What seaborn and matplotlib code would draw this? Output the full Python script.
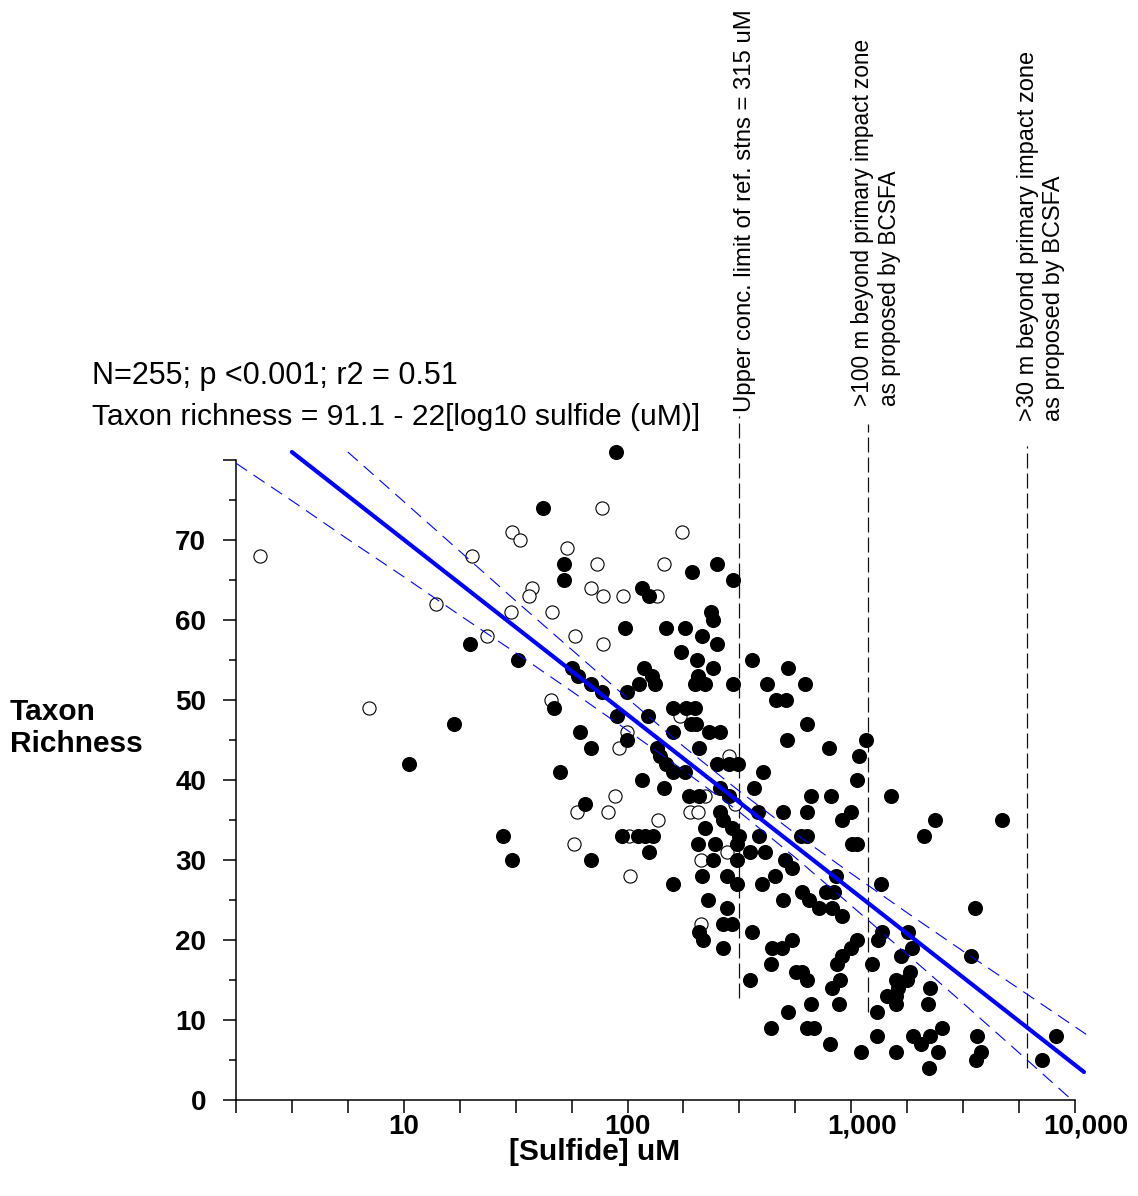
import numpy as np
import pandas as pd
import matplotlib
matplotlib.use("Agg")
import matplotlib.pyplot as plt
from matplotlib.transforms import ScaledTranslation
import seaborn as sns

# ---------------- data ----------------
# reference stations (open circles)
ref_sulfide = [2.28, 20.1, 14.0, 23.5, 7.0, 30.3, 33, 77, 176, 53.5,
               73.4, 145, 37.3, 36.1, 69, 77.3, 95, 135, 30, 45.8,
               58, 78, 45.3, 171, 99, 285, 92, 88, 59.2, 81.5,
               191, 206, 137, 57.4, 102, 103, 214, 214, 221, 303,
               279]
ref_richness = [68, 68, 62, 58, 49, 71, 70, 74, 71, 69,
                67, 67, 64, 63, 64, 63, 63, 63, 61, 61,
                58, 57, 50, 48, 46, 43, 44, 38, 36, 36,
                36, 36, 35, 32, 33, 28, 30, 22, 38, 37,
                31]

# farm stations (filled circles)
impact_sulfide = [19.7, 16.7, 10.6, 89, 41.7, 51.8, 252, 195, 51.8, 295,
                  116, 125, 237, 242, 97, 148, 180, 216, 252, 174,
                  32.3, 205, 361, 56.2, 118, 240, 524, 59.8, 129, 206,
                  69, 113, 133, 200, 221, 295, 422, 624, 76.6, 99,
                  462, 513, 46.8, 159, 183, 200, 90, 124, 61, 159,
                  193, 203, 631, 232, 258, 99, 517, 1166, 68.5, 135,
                  209, 798, 139, 1086, 149, 250, 285, 313, 49.7, 405,
                  116, 1064, 159, 180, 145, 258, 369, 189, 209, 285,
                  662, 814, 1510, 64.3, 258, 384, 497, 636, 1000, 266,
                  912, 2371, 4720, 223, 294, 27.7, 94, 111, 120, 130,
                  316, 388, 598, 636, 2120, 206, 247, 307, 1010, 1064,
                  125, 351, 413, 30.3, 68.5, 240, 310, 507, 545, 216,
                  279, 457, 857, 159, 307, 401, 1360, 604, 773, 839,
                  228, 497, 649, 279, 719, 822, 3580, 912, 266, 294,
                  209, 361, 1374, 1795, 218, 545, 1064, 1321, 266, 444,
                  492, 1000, 1871, 912, 1671, 3435, 439, 867, 1242, 568,
                  604, 1832, 354, 636, 893, 1585, 1778, 822, 1622, 2253,
                  1445, 1585, 662, 884, 1585, 2208, 524, 1306, 439, 636,
                  684, 2547, 1306, 1892, 2253, 3656, 8222, 806, 2056, 1109,
                  1585, 2443, 3802, 3614, 7127, 2230]
impact_richness = [57, 47, 42, 81, 74, 67, 67, 66, 65, 65,
                   64, 63, 61, 60, 59, 59, 59, 58, 57, 56,
                   55, 55, 55, 54, 54, 54, 54, 53, 53, 53,
                   52, 52, 52, 52, 52, 52, 52, 52, 51, 51,
                   50, 50, 49, 49, 49, 49, 48, 48, 46, 46,
                   47, 47, 47, 46, 46, 45, 45, 45, 44, 44,
                   44, 44, 43, 43, 42, 42, 42, 42, 41, 41,
                   40, 40, 41, 41, 39, 39, 39, 38, 38, 38,
                   38, 38, 38, 37, 36, 36, 36, 36, 36, 35,
                   35, 35, 35, 34, 34, 33, 33, 33, 33, 33,
                   33, 33, 33, 33, 33, 32, 32, 32, 32, 32,
                   31, 31, 31, 30, 30, 30, 30, 30, 29, 28,
                   28, 28, 28, 27, 27, 27, 27, 26, 26, 26,
                   25, 25, 25, 24, 24, 24, 24, 23, 22, 22,
                   21, 21, 21, 21, 20, 20, 20, 20, 19, 19,
                   19, 19, 19, 18, 18, 18, 17, 17, 17, 16,
                   16, 16, 15, 15, 15, 15, 15, 14, 14, 14,
                   13, 13, 12, 12, 12, 12, 11, 11, 9, 9,
                   9, 9, 8, 8, 8, 8, 8, 7, 7, 6,
                   6, 6, 6, 5, 5, 4]

# regression line and its confidence band
fit_sulfide = [3.16, 10965]
fit_richness = [81.0, 3.5]
band_up_sulfide = [5.62, 10, 17.78, 31.62, 56.23, 100, 177.8, 316.2,
                   562.3, 1000, 1778, 3162, 5623, 11220]
band_up = [81.0, 74.8, 68.6, 62.4, 56.3, 50.2, 44.2, 38.6,
           33.3, 28.3, 23.4, 18.6, 13.9, 8.2]
band_lo_sulfide = [1.778, 3.162, 5.62, 10, 17.78, 31.62, 56.23, 100, 177.8,
                   316.2, 562.3, 1000, 1778, 3162, 5623, 11220]
band_lo = [79.6, 74.9, 70.1, 65.4, 60.6, 55.9, 51.1, 46.2, 41.2,
           36.0, 30.3, 24.3, 18.2, 12.1, 5.9, -1.6]

# reference limits (vertical dashed lines)
limit_sulfide = [315, 1190, 6100]
limit_bottom = [12.75, 11.0, 4.0]
limit_top = [85.5, 84.5, 81.8]
limit_text = ["Upper conc. limit of ref. stns = 315 uM",
              ">100 m beyond primary impact zone\nas proposed by BCSFA",
              ">30 m beyond primary impact zone\nas proposed by BCSFA"]

x_tick_exp = [0.25 * k for k in range(1, 17)]
x_major_labels = {1.0: "10", 2.0: "100", 3.0: "1,000", 4.0: "10,000"}
y_ticks = [0, 10, 20, 30, 40, 50, 60, 70, 80]
y_tick_labels = ["0", "10", "20", "30", "40", "50", "60", "70", ""]
y_minor = [5, 15, 25, 35, 45, 55, 65, 75]

# ---------------- figure ----------------
sns.set_theme(style="ticks")
plt.rcParams["font.family"] = ["Liberation Sans", "DejaVu Sans"]
for key in ["text.color", "axes.labelcolor", "xtick.color", "ytick.color",
            "axes.edgecolor"]:
    plt.rcParams[key] = "black"

W, H = 1138, 1196
fig = plt.figure(figsize=(W / 100, H / 100), dpi=100)
fig.patch.set_facecolor("white")
ax = fig.add_axes([236 / W, 96 / H, 861.4 / W, 656 / H])
ax.set_facecolor("white")
ax.set_xscale("log")
ax.set_xlim(10 ** 0.25, 10 ** 4.1)
ax.set_ylim(0, 82)

# vertical reference lines
for xv, y0, y1 in zip(limit_sulfide, limit_bottom, limit_top):
    ax.plot([xv, xv], [y0, y1], color="#111111", lw=0.9,
            ls=(0, (12, 4)), clip_on=False, zorder=1)

# points: open first, filled on top
sns.scatterplot(x=ref_sulfide, y=ref_richness, ax=ax, s=90,
                facecolor="white", edgecolor="black", linewidth=0.8,
                zorder=3, legend=False)
sns.scatterplot(x=impact_sulfide, y=impact_richness, ax=ax, s=118,
                color="black", edgecolor="black", linewidth=0,
                zorder=4, legend=False)

# regression line and band
sns.lineplot(x=band_up_sulfide, y=band_up, ax=ax, color="#0000ff",
             lw=0.8, linestyle=(0, (12, 7)), zorder=5, estimator=None)
sns.lineplot(x=band_lo_sulfide, y=band_lo, ax=ax, color="#0000ff",
             lw=0.8, linestyle=(0, (12, 7)), zorder=5, estimator=None)
sns.lineplot(x=fit_sulfide, y=fit_richness, ax=ax, color="#0000ff",
             lw=3.0, zorder=6, estimator=None)

# axes styling
for side in ["top", "right"]:
    ax.spines[side].set_visible(False)
ax.spines["left"].set_bounds(0, 80)
ax.spines["bottom"].set_bounds(10 ** 0.25, 10 ** 4)
for side in ["left", "bottom"]:
    ax.spines[side].set_linewidth(1.1)
    ax.spines[side].set_color("black")

xt = [10 ** e for e in x_tick_exp]
xl = [x_major_labels.get(e, "") for e in x_tick_exp]
ax.set_xticks(xt, labels=xl)
ax.xaxis.set_minor_locator(matplotlib.ticker.NullLocator())
ax.set_yticks(y_ticks, labels=y_tick_labels)
ax.set_yticks(y_minor, minor=True)
ax.tick_params(axis="x", which="major", length=9.5, width=1.1, pad=0.5,
               labelsize=20, direction="out", bottom=True, color="black",
               labelcolor="black")
ax.tick_params(axis="y", which="major", length=9.5, width=1.1, pad=12,
               labelsize=20, direction="out", left=True, color="black",
               labelcolor="black")
ax.tick_params(axis="y", which="minor", length=5, width=1.1,
               direction="out", left=True, color="black")
for lbl in ax.get_xticklabels() + ax.get_yticklabels():
    lbl.set_fontweight("bold")
# the comma labels sit a little right of their ticks in the reference
for lbl in ax.get_xticklabels():
    if "," in lbl.get_text():
        lbl.set_transform(lbl.get_transform()
                          + ScaledTranslation(0.11, 0, fig.dpi_scale_trans))
ax.set_xlabel("")
ax.set_ylabel("")

# texts
fig.text(92 / W, 1 - 376 / H, "N=255; p <0.001; r2 = 0.51",
         fontsize=22, ha="left", va="center", color="black")
fig.text(92 / W, 1 - 417 / H,
         "Taxon richness = 91.1 - 22[log10 sulfide (uM)]",
         fontsize=21.6, ha="left", va="center", color="black")
fig.text(10 / W, 1 - 728 / H, "Taxon\nRichness", fontsize=21.5,
         fontweight="bold", ha="left", va="center", linespacing=1.2,
         color="black")
fig.text(595 / W, 1 - 1152 / H, "[Sulfide] uM", fontsize=21.5,
         fontweight="bold", ha="center", va="center", color="black")

text_x = [745, 876, 1041]
text_bottom = [412, 406, 421]
text_size = [17.2, 16.3, 17.0]
for t, tx, tb, ts in zip(limit_text, text_x, text_bottom, text_size):
    fig.text(tx / W, 1 - tb / H, t, fontsize=ts, rotation=90,
             ha="center", va="bottom", multialignment="left",
             linespacing=1.25, color="black")

fig.savefig("out.png", dpi=100, facecolor="white")
